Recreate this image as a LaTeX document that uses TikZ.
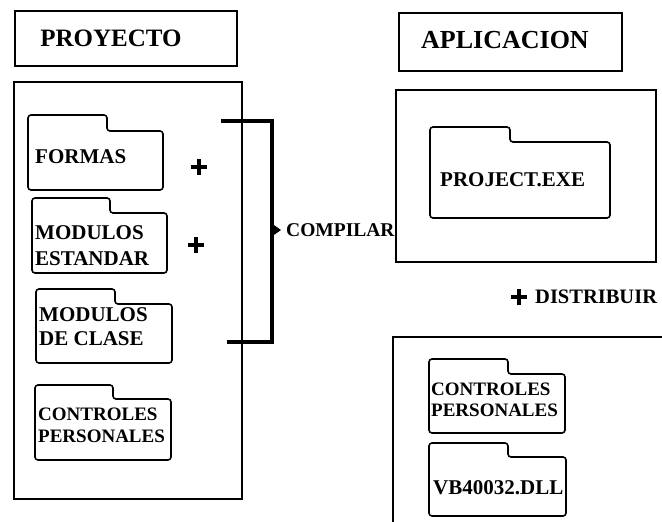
\documentclass[tikz,border=0pt]{standalone}
\usepackage{fontspec}
\setmainfont{Liberation Serif}
\usetikzlibrary{arrows.meta}
\tikzset{
  box/.style={draw, line width=1.3pt},
  fold/.style={draw, line width=1.6pt, rounded corners=3pt},
  lbl/.style={font=\bfseries\fontsize{21}{26}\selectfont, inner sep=0pt, anchor=west, align=left},
  slbl/.style={font=\bfseries\fontsize{19}{22}\selectfont, inner sep=0pt, anchor=west, align=left},
  ttl/.style={font=\bfseries\fontsize{25}{28}\selectfont, inner sep=0pt},
  plus/.style={line width=3.5pt},
  brk/.style={line width=4pt},
}
\newcommand\foldershape[6]{\draw[fold] (#1,#5) -- (#1,#3) -- (#6,#3) -- (#6,#4) -- (#2,#4) -- (#2,#5) -- cycle;}
\newcommand\plussign[2]{\draw[plus] (#1-8,#2) -- (#1+8,#2); \draw[plus] (#1,#2-8) -- (#1,#2+8);}
\begin{document}
\begin{tikzpicture}[x=1pt,y=-1pt]
\useasboundingbox (0,0) rectangle (662,522);
% title boxes
\draw[box] (15,11) rectangle (237,66);
\node[ttl] (proy) at (111,38) {PROYECTO};
\draw[box] (399,13) rectangle (622,71);
\node[ttl, font=\bfseries\fontsize{26}{28}\selectfont] (apli) at (505,40) {APLICACION};
% big boxes
\draw[box] (14,82) rectangle (242,499);
\draw[box] (396,90) rectangle (656,262);
\draw[box] (662,337) -- (393,337) -- (393,522);
% left folders
\foldershape{28}{163}{115}{131}{190}{107}
\node[lbl] (formas) at (35,157) {FORMAS};
\foldershape{32}{167}{198}{213}{273}{110}
\node[lbl] (modest) at (35,246) {MODULOS\\ESTANDAR};
\foldershape{36}{172}{289}{304}{363}{115}
\node[lbl, font=\bfseries\fontsize{21}{24}\selectfont] (modcla) at (39,327) {MODULOS\\DE CLASE};
\foldershape{35}{171}{385}{399}{460}{113}
\node[slbl] (ctrl) at (38,425) {CONTROLES\\PERSONALES};
% plus signs
\plussign{199}{167}
\plussign{196}{245}
\plussign{519}{297}
% bracket
\coordinate (bt) at (221,121);
\coordinate (btr) at (272,121);
\coordinate (bbr) at (272,342);
\coordinate (bb) at (227,342);
\coordinate (bm) at (270,230);
\draw[brk] (bt) -- (btr) -- (bbr) -- (bb);
\node[font=\bfseries\fontsize{19.5}{22}\selectfont, inner sep=0pt, anchor=west] (comp) at (286,230) {COMPILAR};
\draw[line width=1pt, -{Triangle[length=8pt,width=11pt]}] (bm) -- ([xshift=-5pt]comp.west);
% right side
\foldershape{430}{610}{127}{142}{218}{510}
\node[lbl] (exe) at (440,180) {PROJECT.EXE};
\node[font=\bfseries\fontsize{20.5}{22}\selectfont, inner sep=0pt, anchor=west] (dist) at (535,297) {DISTRIBUIR};
\foldershape{429}{565}{359}{374}{433}{508}
\node[slbl, font=\bfseries\fontsize{19}{20.5}\selectfont] (ctrl2) at (431,400) {CONTROLES\\PERSONALES};
\foldershape{429}{566}{443}{457}{516}{508}
\node[lbl] (dll) at (433,488) {VB40032.DLL};
\end{tikzpicture}
\end{document}
